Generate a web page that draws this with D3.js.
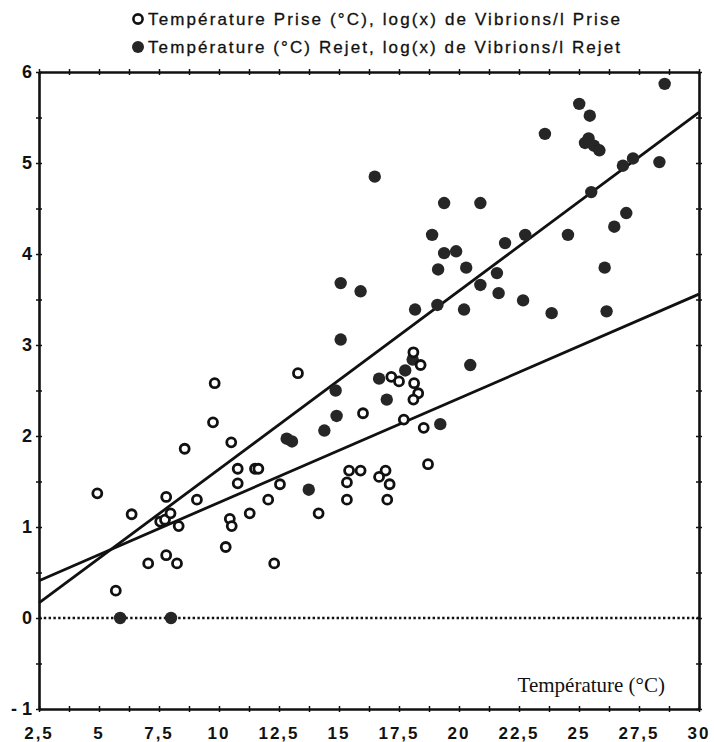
<!DOCTYPE html>
<html>
<head>
<meta charset="utf-8">
<script src="https://cdn.jsdelivr.net/npm/d3@7"></script>
<style>
  body { margin: 0; background: #fff; }
  svg { display: block; }
</style>
</head>
<body>
<svg width="714" height="742"></svg>
<script>
// Temperature (°C) vs log(x) Vibrions/l, intake ("Prise") and discharge ("Rejet")
var priseTemp = [4.93, 6.36, 5.7, 7.05, 7.8, 8.25, 7.8, 7.55, 7.75, 7.98, 8.32, 8.57, 9.08, 9.82, 9.75,
  10.51, 10.78, 10.78, 10.45, 10.53, 10.28, 11.28, 11.5, 11.64, 12.05, 12.3, 12.54, 13.29, 14.15,
  17.18, 17.5, 18.1, 18.4, 18.13, 18.3, 18.1, 16.0, 17.7, 18.53, 18.71, 15.42, 15.9, 15.33, 15.33,
  16.94, 16.67, 17.11, 17.01];
var priseLog = [1.37, 1.14, 0.30, 0.60, 0.69, 0.60, 1.33, 1.06, 1.08, 1.15, 1.01, 1.86, 1.30, 2.58, 2.15,
  1.93, 1.64, 1.48, 1.09, 1.01, 0.78, 1.15, 1.64, 1.64, 1.30, 0.60, 1.47, 2.69, 1.15,
  2.65, 2.60, 2.92, 2.78, 2.58, 2.47, 2.40, 2.25, 2.18, 2.09, 1.69, 1.62, 1.62, 1.49, 1.30,
  1.62, 1.55, 1.47, 1.30];

var rejetTemp = [5.88, 8.0, 12.82, 13.04, 13.74, 14.39, 14.9, 14.86, 15.07, 15.07, 15.9, 16.49, 16.67,
  16.99, 17.76, 18.07, 18.17, 19.1, 20.21, 20.47, 19.22, 18.88, 19.38, 19.88, 19.13, 20.3, 19.38,
  20.89, 20.89, 21.58, 21.65, 21.92, 22.76, 22.67, 23.58, 23.86, 24.54, 25.01, 25.45, 25.25, 25.4,
  25.62, 25.85, 25.51, 26.07, 26.15, 26.47, 26.83, 26.97, 27.25, 28.35, 28.57];
var rejetLog = [0, 0, 1.97, 1.94, 1.41, 2.06, 2.22, 2.50, 3.06, 3.68, 3.59, 4.85, 2.63,
  2.40, 2.72, 2.84, 3.39, 3.44, 3.39, 2.78, 2.13, 4.21, 4.01, 4.03, 3.83, 3.85, 4.56,
  4.56, 3.66, 3.79, 3.57, 4.12, 4.21, 3.49, 5.32, 3.35, 4.21, 5.65, 5.52, 5.22, 5.27,
  5.19, 5.14, 4.68, 3.85, 3.37, 4.30, 4.97, 4.45, 5.05, 5.01, 5.87];

// fitted lines: [intercept, slope]
var fitPrise = [0.124, 0.1145];
var fitRejet = [-0.325, 0.196];

var xTicks = d3.range(2.5, 30.01, 1.25);
var xLabels = d3.range(2.5, 30.01, 2.5);
var yTicks = d3.range(-1, 6.01, 0.5);
var yLabels = d3.range(-1, 7, 1);

var svg = d3.select("svg");
var plotL = 39, plotR = 699, plotT = 72, plotB = 709;

var x = d3.scaleLinear().domain([2.5, 30]).range([plotL, plotR]);
var y = d3.scaleLinear().domain([-1, 6]).range([plotB, plotT]);

function fmt(d) {
  if (d < 0) return "- " + Math.abs(d);
  return String(d).replace(".", ",");
}

// legend
var legend = [
  {label: "Température Prise (°C), log(x) de Vibrions/l Prise", open: true, y: 19},
  {label: "Température (°C) Rejet, log(x) de Vibrions/l Rejet", open: false, y: 47}
];
legend.forEach(function(l) {
  svg.append("circle")
    .attr("cx", 138).attr("cy", l.y)
    .attr("r", l.open ? 4.6 : 6)
    .attr("fill", l.open ? "#fff" : "#262626")
    .attr("stroke", "#111")
    .attr("stroke-width", l.open ? 2.6 : 0);
  svg.append("text")
    .attr("x", 148).attr("y", l.y + 6)
    .attr("font-family", "Liberation Sans, Arial, sans-serif")
    .attr("font-size", "17px")
    .attr("fill", "#111")
    .attr("stroke", "#111")
    .attr("stroke-width", 0.3)
    .attr("textLength", 472)
    .attr("lengthAdjust", "spacing")
    .text(l.label);
});

// axes
function crossTicks(sel, horiz) {
  sel.selectAll(".tick line")
    .attr(horiz ? "y1" : "x1", -3)
    .attr(horiz ? "y2" : "x2", 3)
    .attr("stroke", "#111")
    .attr("stroke-width", 1.5);
  sel.select(".domain").attr("stroke", "#111").attr("stroke-width", 2.6);
}

var gx = svg.append("g")
  .attr("transform", "translate(0," + plotB + ")")
  .call(d3.axisBottom(x).tickValues(xTicks).tickSizeOuter(0).tickFormat(""));
crossTicks(gx, true);
gx.selectAll(".xl")
  .data(xLabels)
  .enter().append("text")
  .attr("class", "xl")
  .attr("x", function(d) { return x(d); })
  .attr("y", 30)
  .attr("text-anchor", "middle")
  .attr("font-family", "Liberation Sans, Arial, sans-serif")
  .attr("font-weight", "bold")
  .attr("font-size", "17px")
  .attr("letter-spacing", "2px")
  .attr("fill", "#111")
  .text(fmt);

var gxt = svg.append("g")
  .attr("transform", "translate(0," + plotT + ")")
  .call(d3.axisTop(x).tickValues(xTicks).tickSizeOuter(0).tickFormat(""));
crossTicks(gxt, true);

var gy = svg.append("g")
  .attr("transform", "translate(" + plotL + ",0)")
  .call(d3.axisLeft(y).tickValues(yTicks).tickSizeOuter(0).tickFormat(""));
crossTicks(gy, false);
gy.selectAll(".yl")
  .data(yLabels)
  .enter().append("text")
  .attr("class", "yl")
  .attr("x", -7)
  .attr("y", function(d) { return y(d); })
  .attr("dy", "0.36em")
  .attr("text-anchor", "end")
  .attr("font-family", "Liberation Sans, Arial, sans-serif")
  .attr("font-weight", "bold")
  .attr("font-size", "18px")
  .attr("fill", "#111")
  .text(fmt);

var gyr = svg.append("g")
  .attr("transform", "translate(" + plotR + ",0)")
  .call(d3.axisRight(y).tickValues(yTicks).tickSizeOuter(0).tickFormat(""));
crossTicks(gyr, false);

// zero line
svg.append("line")
  .attr("x1", plotL).attr("x2", plotR)
  .attr("y1", y(0)).attr("y2", y(0))
  .attr("stroke", "#111")
  .attr("stroke-width", 2.4)
  .attr("stroke-dasharray", "2.4,2.4");

// regression lines
[fitPrise, fitRejet].forEach(function(f) {
  svg.append("line")
    .attr("x1", x(2.5)).attr("y1", y(f[0] + f[1] * 2.5))
    .attr("x2", x(30)).attr("y2", y(f[0] + f[1] * 30))
    .attr("stroke", "#111")
    .attr("stroke-width", 2.8);
});

// points
var prise = priseTemp.map(function(t, i) { return {t: t, v: priseLog[i]}; });
var rejet = rejetTemp.map(function(t, i) { return {t: t, v: rejetLog[i]}; });

svg.selectAll(".rejet")
  .data(rejet)
  .enter().append("circle")
  .attr("class", "rejet")
  .attr("cx", function(d) { return x(d.t); })
  .attr("cy", function(d) { return y(d.v); })
  .attr("r", 6.2)
  .attr("fill", "#262626");

svg.selectAll(".prise")
  .data(prise)
  .enter().append("circle")
  .attr("class", "prise")
  .attr("cx", function(d) { return x(d.t); })
  .attr("cy", function(d) { return y(d.v); })
  .attr("r", 4.5)
  .attr("fill", "#fff")
  .attr("stroke", "#111")
  .attr("stroke-width", 2.8);

// axis title
svg.append("text")
  .attr("x", 665).attr("y", 692)
  .attr("text-anchor", "end")
  .attr("font-family", "Liberation Serif, Times New Roman, serif")
  .attr("font-size", "21px")
  .attr("fill", "#111")
  .text("Température (°C)");
</script>
</body>
</html>
